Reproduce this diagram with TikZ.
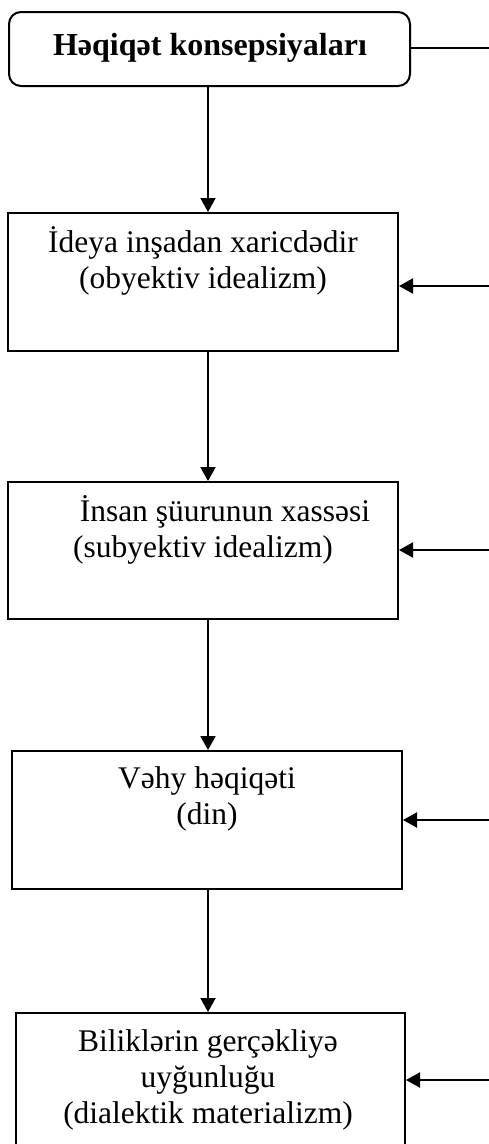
\documentclass[tikz,border=0pt]{standalone}
\usepackage{fontspec}
\setmainfont{Liberation Serif}
\usetikzlibrary{arrows.meta}
\begin{document}
\begin{tikzpicture}[x=1pt,y=-1pt,
  boxstyle/.style={draw,line width=2pt,inner sep=0pt,anchor=center},
  txt/.style={align=center,font=\fontsize{31.5}{36}\selectfont,inner sep=0pt},
  arr/.style={line width=2pt,-{Triangle[length=14pt,width=15pt]}},
  ln/.style={line width=2pt}]
\useasboundingbox (0,0) rectangle (489,1144);
% top rounded box
\node[boxstyle,rounded corners=12pt,minimum width=401pt,minimum height=74pt] (t) at (209.5,49) {};
\node[txt,font=\fontsize{32}{36}\selectfont\bfseries] (tt) at (210,48) {Həqiqət konsepsiyaları};
% boxes
\node[boxstyle,minimum width=390pt,minimum height=138pt] (b2) at (203,282) {};
\node[txt] (t2) at (203,261) {İdeya inşadan xaricdədir\\(obyektiv idealizm)};
\node[boxstyle,minimum width=390pt,minimum height=137pt] (b3) at (203,550.5) {};
\node[txt] (t3) at (203,530) {\hspace*{44pt}İnsan şüurunun xassəsi\\(subyektiv idealizm)};
\node[boxstyle,minimum width=390pt,minimum height=138pt] (b4) at (207,820) {};
\node[txt] (t4) at (207,799) {Vəhy həqiqəti\\(din)};
\node[boxstyle,minimum width=389pt,minimum height=140pt] (b5) at (210.5,1083) {};
\node[txt] (t5) at (208,1080) {Biliklərin gerçəkliyə\\uyğunluğu\\(dialektik materializm)};
% right-side feed points
\coordinate (r1) at (489,48);
\coordinate (r2) at (489,286);
\coordinate (r3) at (489,550);
\coordinate (r4) at (489,820);
\coordinate (r5) at (489,1080);
\coordinate (vx) at (208,0);
% connectors
\draw[ln] (t.east |- r1) -- (r1);
\draw[arr] (vx |- t.south) -- (vx |- b2.north);
\draw[arr] (vx |- b2.south) -- (vx |- b3.north);
\draw[arr] (vx |- b3.south) -- (vx |- b4.north);
\draw[arr] (vx |- b4.south) -- (vx |- b5.north);
\draw[arr] (r2) -- (b2.east |- r2);
\draw[arr] (r3) -- (b3.east |- r3);
\draw[arr] (r4) -- (b4.east |- r4);
\draw[arr] (r5) -- (b5.east |- r5);
\end{tikzpicture}
\end{document}
